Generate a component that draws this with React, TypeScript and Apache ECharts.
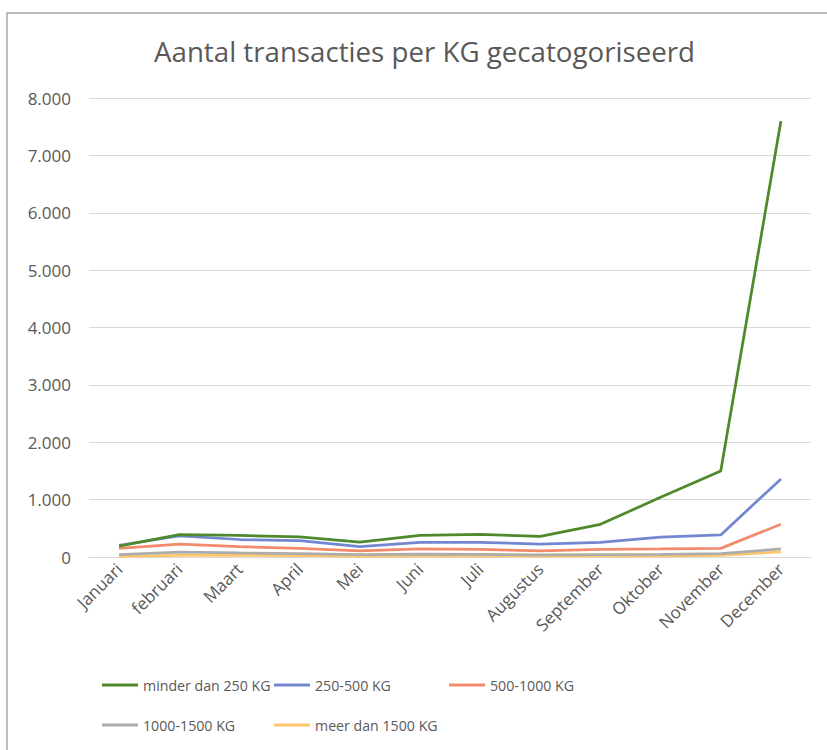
import React, { useEffect, useRef } from "react";
import * as echarts from "echarts";

const months = ["Januari", "februari", "Maart", "April", "Mei", "Juni", "Juli", "Augustus", "September", "Oktober", "November", "December"];
const lt250 = [190, 390, 375, 350, 260, 375, 395, 360, 570, 1040, 1500, 7600];
const s250_500 = [205, 370, 305, 285, 180, 255, 255, 225, 255, 345, 385, 1360];
const s500_1000 = [150, 225, 180, 150, 105, 140, 135, 105, 135, 140, 150, 570];
const s1000_1500 = [40, 85, 70, 60, 40, 50, 45, 35, 40, 45, 60, 140];
const gt1500 = [10, 30, 28, 22, 15, 20, 20, 15, 18, 20, 28, 90];

const seriesNames = ["minder dan 250 KG", "250-500 KG", "500-1000 KG", "1000-1500 KG", "meer dan 1500 KG"];
const seriesData = [lt250, s250_500, s500_1000, s1000_1500, gt1500];
const colors = ["#4e8a2c", "#7387d1", "#f28a6c", "#acacac", "#fec66c"];
const yTicks = { min: 0, max: 8000, interval: 1000 };

const FONT = "Open Sans";
const TXT = "#595959";

export default function App() {
  const ref = useRef<HTMLDivElement>(null);
  useEffect(() => {
    if (!ref.current) return;
    const chart = echarts.init(ref.current, undefined, { renderer: "svg" });
    const legendPos = [
      { left: 102, top: 678 },
      { left: 274, top: 678 },
      { left: 449, top: 678 },
      { left: 102, top: 718 },
      { left: 274, top: 718 },
    ];
    chart.setOption({
      animation: false,
      color: colors,
      textStyle: { fontFamily: FONT },
      title: {
        text: "Aantal transacties per KG gecatogoriseerd",
        left: 149,
        top: 32,
        textStyle: { fontFamily: FONT, fontSize: 27.7, fontWeight: "normal", color: TXT },
      },
      graphic: [
        {
          type: "rect",
          shape: { x: 7, y: 13, width: 900, height: 800 },
          style: { fill: "none", stroke: "#a6a6a6", lineWidth: 1.5 },
          silent: true,
        },
      ],
      legend: seriesNames.map((n, i) => ({
        data: [n],
        left: legendPos[i].left,
        top: legendPos[i].top,
        padding: 0,
        icon: "rect",
        itemWidth: 36,
        itemHeight: 3,
        itemGap: 4,
        textStyle: { fontFamily: FONT, fontSize: 14.2, color: TXT },
      })),
      grid: { left: 89, right: 16, top: 98, bottom: 193, containLabel: false },
      xAxis: {
        type: "category",
        data: months,
        boundaryGap: true,
        axisLine: { lineStyle: { color: "#d9d9d9", width: 1 } },
        axisTick: { show: false },
        axisLabel: { rotate: 45, fontFamily: FONT, fontSize: 17, color: TXT, margin: 9, interval: 0 },
      },
      yAxis: {
        type: "value",
        min: yTicks.min,
        max: yTicks.max,
        interval: yTicks.interval,
        axisLine: { show: false },
        axisTick: { show: false },
        splitLine: { lineStyle: { color: "#d9d9d9", width: 1 } },
        axisLabel: {
          fontFamily: FONT,
          fontSize: 17,
          color: TXT,
          margin: 18,
          formatter: (v: number) => (v >= 1000 ? Math.floor(v / 1000) + "." + String(v % 1000).padStart(3, "0") : String(v)),
        },
      },
      series: seriesNames.map((n, i) => ({
        name: n,
        type: "line",
        data: seriesData[i],
        symbol: "none",
        smooth: false,
        z: 10 - i,
        lineStyle: { width: 2.75, color: colors[i] },
      })),
    });
    return () => chart.dispose();
  }, []);
  return <div ref={ref} style={{ position: "absolute", left: 0, top: 0, width: 827, height: 750, background: "#fff" }} />;
}
